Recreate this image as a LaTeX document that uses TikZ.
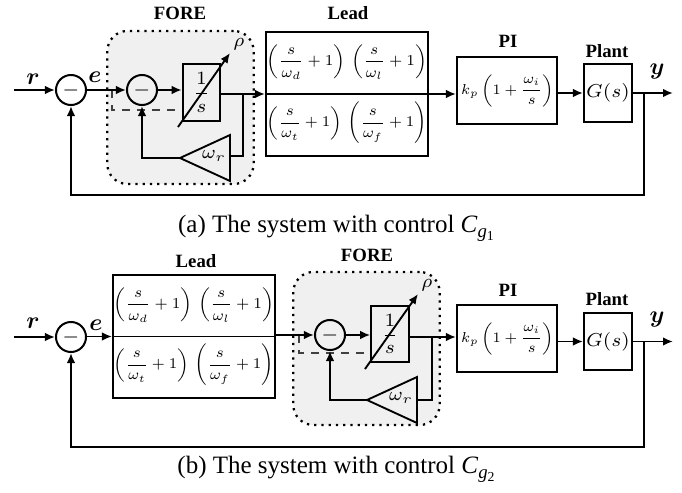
\RequirePackage{fix-cm}
\documentclass[tikz,border=0pt]{standalone}
\usepackage[no-math]{fontspec}
\setmainfont{Liberation Serif}
\usepackage{amsmath}
\usepackage{exscale}
\usepackage{bm}
\usepackage{graphicx}
\usetikzlibrary{arrows.meta,calc}
\newcommand\CgSub[1]{\textit{C}\raisebox{-0.45ex}{\fontsize{7.5}{7.5}\selectfont\textit{g}\raisebox{-0.4ex}{\fontsize{5.5}{5.5}\selectfont #1}}}
\newcommand\leadrow[2]{\resizebox{64pt}{!}{$\left(\dfrac{s}{\omega_{#1}}+1\right)\,\left(\dfrac{s}{\omega_{#2}}+1\right)$}}
\newcommand\pitext{\resizebox{37pt}{!}{$k_p\left(1+\dfrac{\omega_i}{s}\right)$}}
\begin{document}
\begin{tikzpicture}[x=0.4pt,y=-0.4pt,
  ln/.style={line width=0.75pt},
  arr/.style={ln,-{Latex[length=4pt,width=3.4pt]}},
  blk/.style={draw,line width=0.8pt,inner sep=0pt},
  sumc/.style={draw,circle,line width=0.8pt,minimum size=12pt,inner sep=0pt,font=\fontsize{8}{8}\selectfont},
  lbl/.style={inner sep=0pt,font=\fontsize{7.5}{9}\selectfont\bfseries},
  mth/.style={inner sep=0pt,font=\fontsize{7.5}{9}\selectfont},
  sig/.style={inner sep=0pt,font=\fontsize{9.5}{10}\selectfont},
  forebox/.style={draw,dotted,line width=0.9pt,fill=gray!12,rounded corners=8pt,minimum width=58.5pt,minimum height=61.2pt},
  dsh/.style={dashed,line width=0.5pt,draw=black!75},
  captxt/.style={inner sep=0pt,font=\fontsize{10}{12}\selectfont},
  leadbox/.style={blk,minimum width=64.8pt,minimum height=49.4pt},
  intbox/.style={blk,fill=gray!12,minimum width=15pt,minimum height=22.6pt},
  pibox/.style={blk,minimum width=40pt,minimum height=26.8pt},
  plbox/.style={blk,minimum width=19.2pt,minimum height=23pt}]

\useasboundingbox (0,0) rectangle (682,493);

% ================= (a) =================
\node[forebox] (foreA) at (180.5,107.5) {};
\node[lbl] (foreAl) at (180,13) {FORE};
\node[sumc] (s1a) at (71,90) {$-$};
\node[sumc] (s2a) at (142,90) {$-$};
\node[intbox,mth] (intA) at (201.5,92.5) {$\dfrac{1}{s}$};
\node[leadbox] (leadA) at (347,94) {};
\node[lbl] (leadAl) at (348,13) {Lead};
\node[mth] (leadAn) at (347,62) {\leadrow{d}{l}};
\node[mth] (leadAd) at (347,123) {\leadrow{t}{f}};
\node[pibox] (piA) at (507,90.5) {};
\node[mth] (piAt) at (507.5,90.5) {\pitext};
\node[lbl] (piAl) at (508,41) {PI};
\node[plbox,mth] (plA) at (608,93) {$G(s)$};
\node[lbl] (plAl) at (607,51) {Plant};
\coordinate (triAa) at (180,158);
\coordinate (triAt) at (230,135);
\coordinate (triAb) at (230,181);
\coordinate (triAr) at (230,156);
\draw[ln,fill=gray!12] (triAa) -- (triAt) -- (triAb) -- cycle;
\node[mth] (wrA) at (214,156) {$\omega_r$};
\node[sig] (rA) at (33,79) {$\bm{r}$};
\node[sig] (eA) at (95,77) {$\bm{e}$};
\node[sig] (yA) at (657,72) {$\bm{y}$};
\node[mth] (rhoA) at (239,44) {$\rho$};
\coordinate (inA) at (14,90);
\coordinate (brA) at (243,94);
\coordinate (dA1) at (112,90);
\coordinate (dA2) at (112,110);
\coordinate (diagA1) at (178,127);
\coordinate (diagA2) at (230,53);
\coordinate (outA) at (673,93);
\coordinate (fbA1) at (644,93);
\coordinate (fbA2) at (644,195);

\draw[dsh] (dA1) -- (dA2) -- (dA2 -| intA.west);
\draw[arr] (inA) -- (s1a);
\draw[arr] (s1a) -- (s2a);
\draw[arr] (s2a) -- (s2a -| intA.west);
\draw[arr] (intA.east |- leadA.west) -- (leadA.west);
\draw[ln] (leadA.west) -- (leadA.east);
\draw[ln] (brA) |- (triAr);
\draw[arr] (triAa) -| (s2a.south);
\draw[arr] (diagA1) -- (diagA2);
\draw[arr] (leadA.east) -- (leadA.east -| piA.west);
\draw[arr] (piA.east |- plA.west) -- (plA.west);
\draw[arr] (plA.east) -- (outA);
\draw[arr] (fbA1) -- (fbA2) -| (s1a.south);
\node[captxt] (capA) at (336,228) {(a) The system with control \CgSub{1}};

% ================= (b) =================
\node[forebox] (foreB) at (366.5,348.5) {};
\node[lbl] (foreBl) at (367,255) {FORE};
\node[sumc] (s1b) at (71,337) {$-$};
\node[sumc] (s2b) at (330,335) {$-$};
\node[leadbox] (leadB) at (194,336.5) {};
\node[lbl] (leadBl) at (196,261) {Lead};
\node[mth] (leadBn) at (194,305) {\leadrow{d}{l}};
\node[mth] (leadBd) at (194,365) {\leadrow{t}{f}};
\node[intbox,mth] (intB) at (390,334) {$\dfrac{1}{s}$};
\node[pibox] (piB) at (507,338.5) {};
\node[mth] (piBt) at (507.5,338.5) {\pitext};
\node[lbl] (piBl) at (508,290) {PI};
\node[plbox,mth] (plB) at (608,341.5) {$G(s)$};
\node[lbl] (plBl) at (607,299) {Plant};
\coordinate (triBa) at (367,400);
\coordinate (triBt) at (417,377);
\coordinate (triBb) at (417,423);
\coordinate (triBr) at (417,400);
\draw[ln,fill=gray!12] (triBa) -- (triBt) -- (triBb) -- cycle;
\node[mth] (wrB) at (401,398) {$\omega_r$};
\node[sig] (rB) at (33,323) {$\bm{r}$};
\node[sig] (eB) at (96,325) {$\bm{e}$};
\node[sig] (yB) at (657,320) {$\bm{y}$};
\node[mth] (rhoB) at (427,285) {$\rho$};
\coordinate (inB) at (14,337);
\coordinate (brB) at (432,337);
\coordinate (dB1) at (299,335);
\coordinate (dB2) at (299,353);
\coordinate (diagB1) at (365,369);
\coordinate (diagB2) at (418,294);
\coordinate (outB) at (673,341.5);
\coordinate (fbB1) at (644,341.5);
\coordinate (fbB2) at (644,447);

\draw[dsh] (dB1) -- (dB2) -- (dB2 -| intB.west);
\draw[arr] (inB) -- (s1b);
\draw[arr] (s1b.east |- leadB.west) -- (leadB.west);
\draw[ln] (leadB.west) -- (leadB.east);
\draw[arr] (leadB.east |- s2b.west) -- (s2b.west);
\draw[arr] (s2b) -- (s2b -| intB.west);
\draw[arr] (intB.east |- brB) -- (brB -| piB.west);
\draw[ln] (brB) |- (triBr);
\draw[arr] (triBa) -| (s2b.south);
\draw[arr] (diagB1) -- (diagB2);
\draw[arr] (piB.east |- plB.west) -- (plB.west);
\draw[arr] (plB.east) -- (outB);
\draw[arr] (fbB1) -- (fbB2) -| (s1b.south);
\node[captxt] (capB) at (336,469) {(b) The system with control \CgSub{2}};
\end{tikzpicture}
\end{document}
